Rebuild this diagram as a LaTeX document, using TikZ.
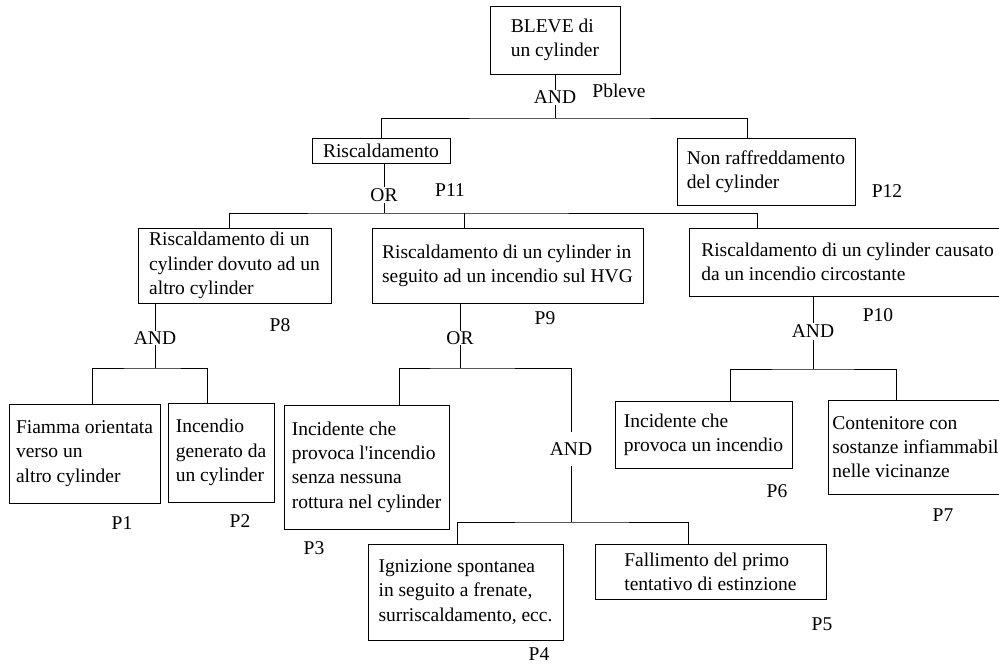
\documentclass[tikz,border=0pt]{standalone}
\usepackage{fontspec}
\setmainfont{Liberation Serif}
\begin{document}
\begin{tikzpicture}[
			x=1pt, y=-1pt,
			event/.style={rectangle, draw, line width=0.8pt, align=left, inner sep=0pt, font=\fontsize{19.5}{24.3}\selectfont},
			gate/.style={inner xsep=1pt, inner ysep=1pt, font=\fontsize{19.5}{24.3}\selectfont},
			prob/.style={inner sep=0pt, font=\fontsize{19.5}{24.3}\selectfont},
			link/.style={line width=0.8pt}
		]
		\clip (0,0) rectangle (999,664);
		\fill[white] (0,0) rectangle (999,664);

		% Evento principale
		\node[event, minimum width=130, minimum height=68] (bleve) at (555,40) {BLEVE di\\un cylinder};
		\node[gate] (g0) at (555,97.5) {AND};
		\node[prob] (pbleve) at (619,91) {Pbleve};
		\coordinate (b0) at (555,118);

		% Primo livello
		\node[event, minimum width=138, minimum height=25] (risc) at (381,150.5) {Riscaldamento};
		\node[event, minimum width=178, minimum height=67] (nonraff) at (766,172) {Non raffreddamento\\del cylinder};
		\node[prob] (p11) at (450,190) {P11};
		\node[prob] (p12) at (887,191) {P12};
		\node[gate, inner ysep=1.5pt] (g1) at (384,195) {OR};
		\coordinate (b1) at (384,213);

		% Secondo livello
		\node[event, minimum width=193, minimum height=75] (p8box) at (234.5,265.5) {Riscaldamento di un\\cylinder dovuto ad un\\altro cylinder};
		\node[event, minimum width=271, minimum height=75] (p9box) at (507.5,265.5) {Riscaldamento di un cylinder in\\seguito ad un incendio sul HVG};
		\node[event, minimum width=317, minimum height=68] (p10box) at (847.5,262) {Riscaldamento di un cylinder causato\\da un incendio circostante};
		\node[prob] (p8) at (280,325) {P8};
		\node[prob] (p9) at (545,318) {P9};
		\node[prob] (p10) at (878,315) {P10};
		\node[gate, inner ysep=0pt] (g2) at (155,338) {AND};
		\node[gate, inner ysep=0pt] (g3) at (460,338) {OR};
		\node[gate, inner ysep=1.5pt] (g4) at (813,331.5) {AND};
		\coordinate (b2) at (155,368);
		\coordinate (b3) at (460,368);
		\coordinate (b4) at (813,369);

		% Eventi base
		\node[event, minimum width=151, minimum height=99] (p1box) at (84.5,453.5) {Fiamma orientata\\verso un\\altro cylinder};
		\node[event, minimum width=106, minimum height=99] (p2box) at (221,452.5) {Incendio\\generato da\\un cylinder};
		\node[event, minimum width=165, minimum height=124] (p3box) at (366.5,467) {Incidente che\\provoca l\textquotesingle incendio\\senza nessuna\\rottura nel cylinder};
		\node[event, minimum width=177, minimum height=67] (p6box) at (703.5,434.5) {Incidente che\\provoca un incendio};
		\node[event, minimum width=175, minimum height=94] (p7box) at (915.5,447) {Contenitore con\\sostanze infiammabil\\nelle vicinanze};
		\node[gate, inner ysep=10.5pt] (g5) at (571,449) {AND};
		\coordinate (b5) at (571,522);
		\node[event, minimum width=195, minimum height=96] (p4box) at (465.5,592) {Ignizione spontanea\\in seguito a frenate,\\surriscaldamento, ecc.};
		\node[event, minimum width=231, minimum height=55] (p5box) at (710.5,571.5) {Fallimento del primo\\tentativo di estinzione};
		\node[prob] (p1) at (122,523) {P1};
		\node[prob] (p2) at (240,521) {P2};
		\node[prob] (p3) at (314,548) {P3};
		\node[prob] (p4) at (539,654) {P4};
		\node[prob] (p5) at (822,624) {P5};
		\node[prob] (p6) at (777,491) {P6};
		\node[prob] (p7) at (943,515) {P7};

		% Collegamenti
		\draw[link] (bleve) -- (g0) -- (b0);
		\draw[link] (risc.north) |- (b0) -| ([xshift=-19pt]nonraff.north);

		\draw[link] (risc.south -| g1) -- (g1) -- (b1);
		\draw[link] ([xshift=-5.5pt]p8box.north) |- (b1) -| ([xshift=69pt]p10box.north west);
		\draw[link] ([xshift=-43.5pt]p9box.north) -- ([xshift=-43.5pt]p9box.north |- b1);

		\draw[link] (p8box.south -| g2) -- (g2) -- (b2);
		\draw[link] ([xshift=7.5pt]p1box.north) |- (b2) -| ([xshift=-14pt]p2box.north);

		\draw[link] (p9box.south -| g3) -- (g3) -- (b3);
		\draw[link] ([xshift=32.5pt]p3box.north) |- (b3) -| (g5);
		\draw[link] (g5) -- (b5);
		\draw[link] ([xshift=-8.5pt]p4box.north) |- (b5) -| ([xshift=-22.5pt]p5box.north);

		\draw[link] (p10box.south -| g4) -- (g4) -- (b4);
		\draw[link] ([xshift=26.5pt]p6box.north) |- (b4) -| ([xshift=69pt]p7box.north west);

	\end{tikzpicture}
\end{document}
